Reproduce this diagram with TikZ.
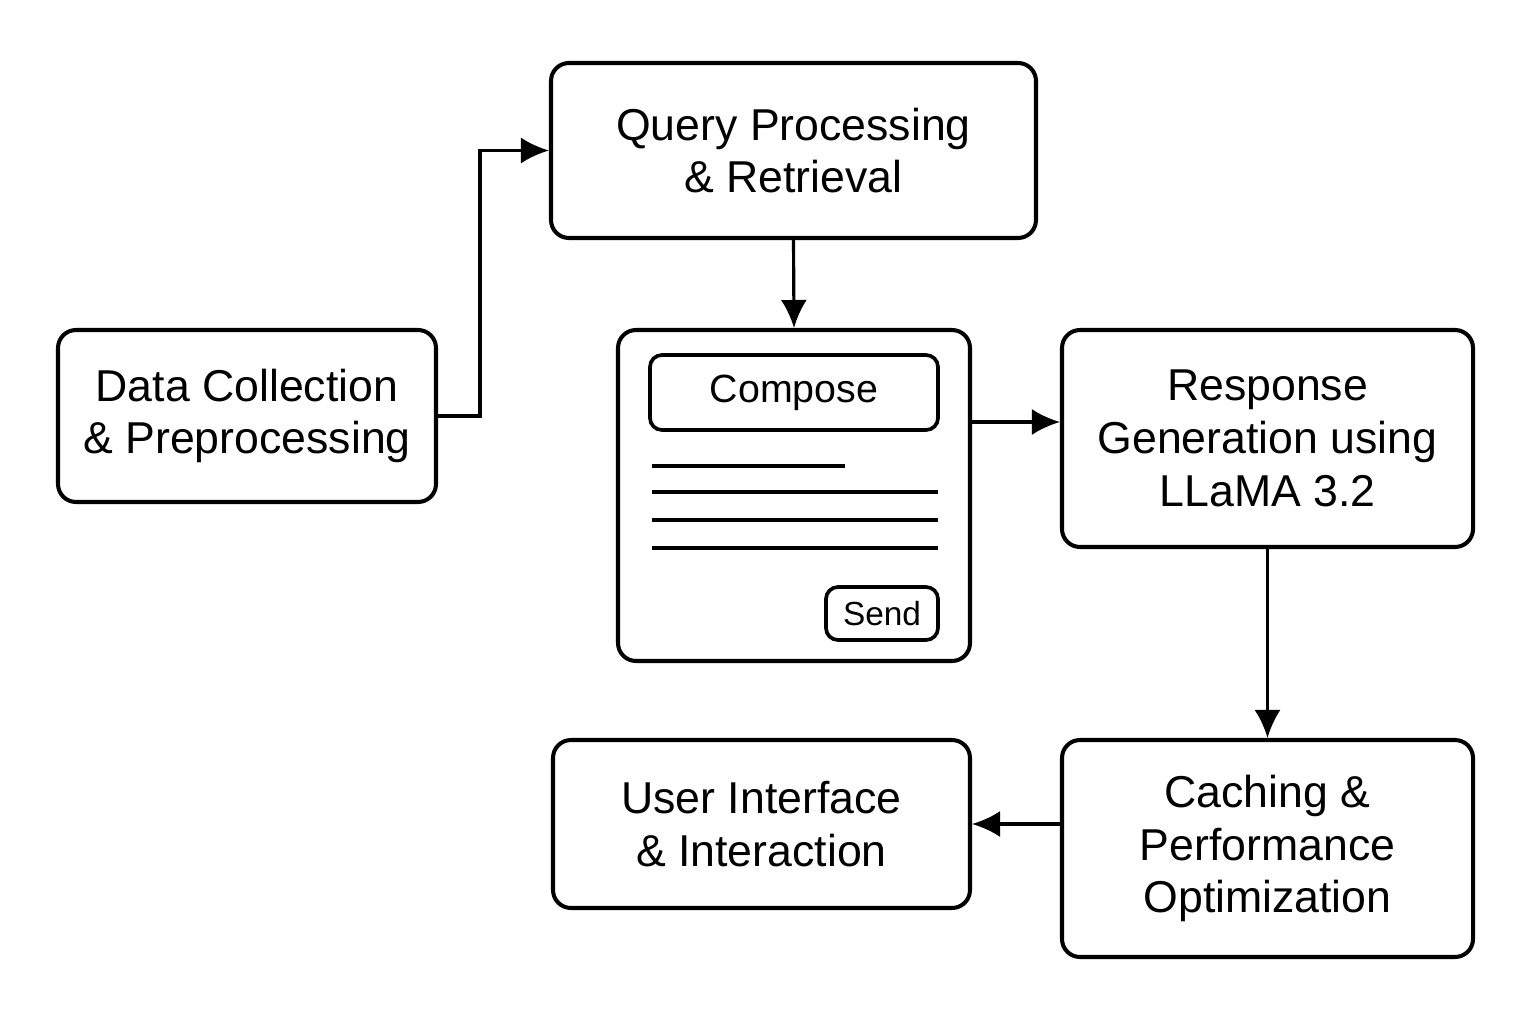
\documentclass[tikz,border=0pt]{standalone}
\usepackage{fontspec}
\setmainfont{Liberation Sans}
\usetikzlibrary{arrows.meta}
\tikzset{
  >={Latex[length=2.8mm,width=2.6mm]},
}
\tikzstyle{block}=[draw,line width=1.15pt,rounded corners=1.8mm,align=center,inner sep=0pt,font=\fontsize{12.7}{15}\selectfont]
\tikzstyle{button}=[draw,line width=1.05pt,rounded corners=1.2mm,align=center,inner sep=0pt]
\tikzstyle{flow}=[line width=0.9pt,->]
\tikzstyle{textline}=[line width=1.2pt]

\begin{document}
\begin{tikzpicture}
    \useasboundingbox (0,0) rectangle (15.36,10.24);
    \node[block,minimum width=3.78cm,minimum height=1.72cm] (data) at (2.47,6.08) {Data Collection\\ \& Preprocessing};
    \node[block,minimum width=4.85cm,minimum height=1.75cm] (query) at (7.935,8.735) {Query Processing\\ \& Retrieval};
    \node[block,minimum width=3.52cm,minimum height=3.31cm] (panel) at (7.94,5.285) {};
    \node[button,minimum width=2.88cm,minimum height=0.75cm,font=\fontsize{11.2}{13}\selectfont] (compose) at (7.94,6.315) {Compose};
    \node[button,minimum width=1.12cm,minimum height=0.53cm,font=\fontsize{9.5}{11}\selectfont] (send) at (8.82,4.105) {Send};
    \draw[textline] (6.52,5.58)--(8.45,5.58);
    \draw[textline] (6.52,5.32)--(9.38,5.32);
    \draw[textline] (6.52,5.04)--(9.38,5.04);
    \draw[textline] (6.52,4.76)--(9.38,4.76);
    \node[block,minimum width=4.11cm,minimum height=2.17cm] (resp) at (12.675,5.855) {Response\\ Generation using\\ LLaMA 3.2};
    \node[block,minimum width=4.11cm,minimum height=2.17cm] (cach) at (12.675,1.755) {Caching \&\\ Performance\\ Optimization};
    \node[block,minimum width=4.17cm,minimum height=1.68cm] (ui) at (7.615,2.00) {User Interface\\ \& Interaction};
    \draw[flow] (data.east) -- (4.80,6.08) |- (query.west);
    \draw[flow] (query.south) -- (panel.north);
    \draw[flow] ([yshift=7.35mm]panel.east) -- ([yshift=7.35mm]panel.east -| resp.west);
    \draw[flow] (resp.south) -- (cach.north);
    \draw[flow] (ui.east -| cach.west) -- (ui.east);
  \end{tikzpicture}
\end{document}
